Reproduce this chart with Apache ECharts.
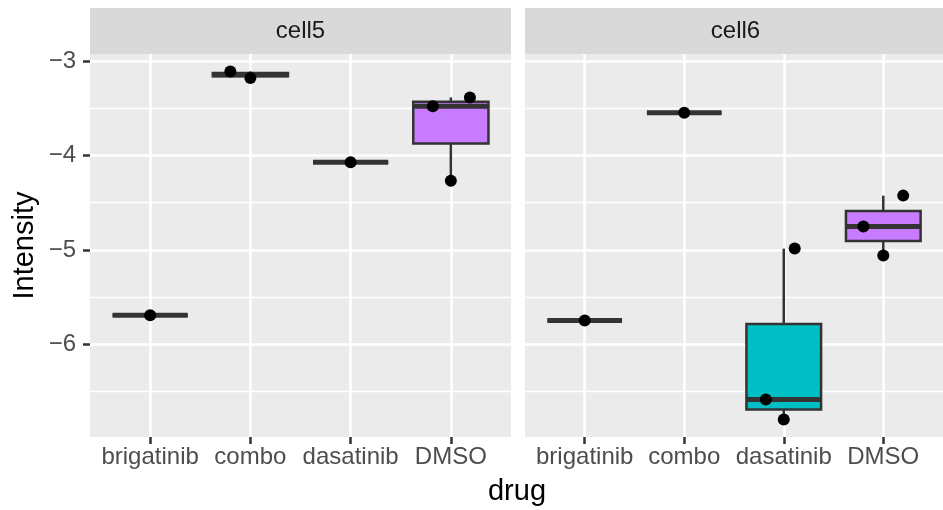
<!DOCTYPE html>
<html><head><meta charset="utf-8">
<script src="https://cdn.jsdelivr.net/npm/echarts@6/dist/echarts.min.js"></script>
<style>html,body{margin:0;padding:0;background:#fff}#c{width:943px;height:510px}</style>
</head><body><div id="c"></div>
<script>
// ---------------- data ----------------
const drugs = ['brigatinib', 'combo', 'dasatinib', 'DMSO'];
const panels = ['cell5', 'cell6'];
const yTicks = [-3, -4, -5, -6];
const yMinorTicks = [-3.5, -4.5, -5.5, -6.5];
const fillColors = ['#F8766D', '#7CAE00', '#00BFC4', '#C77CFF'];

// observed Intensity values per panel / drug
const cell5_brigatinib = [-5.692];
const cell5_combo = [-3.110, -3.180];
const cell5_dasatinib = [-4.072];
const cell5_DMSO = [-3.480, -3.385, -4.267];
const cell6_brigatinib = [-5.748];
const cell6_combo = [-3.547];
const cell6_dasatinib = [-4.986, -6.584, -6.796];
const cell6_DMSO = [-4.425, -4.753, -5.060];

// horizontal jitter of each point (category units)
const cell5_brigatinib_jit = [0];
const cell5_combo_jit = [-0.20, 0.00];
const cell5_dasatinib_jit = [0];
const cell5_DMSO_jit = [-0.18, 0.19, 0.00];
const cell6_brigatinib_jit = [0];
const cell6_combo_jit = [0];
const cell6_dasatinib_jit = [0.11, -0.18, 0.00];
const cell6_DMSO_jit = [0.20, -0.20, 0.00];

const groups = [
  [cell5_brigatinib, cell5_combo, cell5_dasatinib, cell5_DMSO],
  [cell6_brigatinib, cell6_combo, cell6_dasatinib, cell6_DMSO]
];
const jitters = [
  [cell5_brigatinib_jit, cell5_combo_jit, cell5_dasatinib_jit, cell5_DMSO_jit],
  [cell6_brigatinib_jit, cell6_combo_jit, cell6_dasatinib_jit, cell6_DMSO_jit]
];

// ---------------- stats ----------------
function quant(s, p) {
  const h = (s.length - 1) * p, lo = Math.floor(h);
  const hi = Math.min(lo + 1, s.length - 1);
  return s[lo] + (h - lo) * (s[hi] - s[lo]);
}
function boxStats(vals) {
  const s = vals.slice().sort((a, b) => a - b);
  const q1 = quant(s, 0.25), med = quant(s, 0.5), q3 = quant(s, 0.75);
  const iqr = q3 - q1;
  const inside = s.filter(v => v >= q1 - 1.5 * iqr && v <= q3 + 1.5 * iqr);
  return [Math.min(...inside), q1, med, q3, Math.max(...inside)];
}
const allVals = groups.flat(2);
const dmin = Math.min(...allVals), dmax = Math.max(...allVals);
const pad = (dmax - dmin) * 0.05;
const yMin = dmin - pad, yMax = dmax + pad;

// ---------------- layout ----------------
const FONT = "'Liberation Sans', Arial, sans-serif";
const gridTop = 54, gridH = 383;
const gridLefts = [90, 525], gridW = 421;
const stripH = 46;
const fmt = v => (v < 0 ? '\u2212' + Math.abs(v) : String(v));

const grids = [], xAxes = [], yAxes = [], series = [], graphics = [];
panels.forEach((p, pi) => {
  grids.push({left: gridLefts[pi], top: gridTop, width: gridW, height: gridH,
    show: true, backgroundColor: '#EBEBEB', borderWidth: 0});
  xAxes.push({
    type: 'value', gridIndex: pi, min: 0.4, max: 4.6, position: 'bottom',
    axisLine: {show: false},
    axisTick: {show: true, length: 7, customValues: [1, 2, 3, 4],
      lineStyle: {color: '#333333', width: 2.5}},
    axisLabel: {show: true, customValues: [1, 2, 3, 4], formatter: v => drugs[Math.round(v) - 1],
      color: '#4D4D4D', fontSize: 24, fontFamily: FONT, margin: 8},
    splitLine: {show: true, lineStyle: {color: '#FFFFFF', width: 2.5}}
  });
  // minor y gridlines
  yAxes.push({
    type: 'value', gridIndex: pi, min: yMin, max: yMax, position: 'left',
    axisLine: {show: false},
    axisTick: {show: false, customValues: yMinorTicks},
    axisLabel: {show: false, customValues: yMinorTicks},
    splitLine: {show: true, lineStyle: {color: '#FFFFFF', width: 1.3}}
  });
  // major y axis
  yAxes.push({
    type: 'value', gridIndex: pi, min: yMin, max: yMax, position: 'left',
    axisLine: {show: false},
    axisTick: {show: pi === 0, length: 7, customValues: yTicks,
      lineStyle: {color: '#333333', width: 2.5}},
    axisLabel: {show: pi === 0, customValues: yTicks, formatter: fmt,
      color: '#4D4D4D', fontSize: 24, fontFamily: FONT, margin: 14},
    splitLine: {show: true, lineStyle: {color: '#FFFFFF', width: 2.5}}
  });

  const boxData = drugs.map((d, di) => [di + 1, ...boxStats(groups[pi][di]), di]);
  series.push({
    type: 'custom', xAxisIndex: pi, yAxisIndex: pi * 2 + 1, z: 3,
    data: boxData,
    renderItem: function (params, api) {
      const x = api.value(0);
      const lo = api.coord([x, api.value(1)]), q1 = api.coord([x, api.value(2)]);
      const md = api.coord([x, api.value(3)]), q3 = api.coord([x, api.value(4)]);
      const hi = api.coord([x, api.value(5)]);
      const w = api.size([0.75, 0])[0];
      const col = fillColors[api.value(6)];
      const st = {stroke: '#333333', lineWidth: 2.5, fill: null};
      return {type: 'group', children: [
        {type: 'line', shape: {x1: hi[0], y1: hi[1], x2: q3[0], y2: q3[1]}, style: st},
        {type: 'line', shape: {x1: lo[0], y1: lo[1], x2: q1[0], y2: q1[1]}, style: st},
        {type: 'rect', shape: {x: q3[0] - w / 2, y: q3[1], width: w, height: q1[1] - q3[1]},
          style: {fill: col, stroke: '#333333', lineWidth: 2.5}},
        {type: 'line', shape: {x1: md[0] - w / 2, y1: md[1], x2: md[0] + w / 2, y2: md[1]},
          style: {stroke: '#333333', lineWidth: 5, lineCap: 'butt'}}
      ]};
    }
  });
  const pts = [];
  drugs.forEach((d, di) => groups[pi][di].forEach((v, k) => pts.push([di + 1 + jitters[pi][di][k], v])));
  series.push({
    type: 'scatter', xAxisIndex: pi, yAxisIndex: pi * 2 + 1, z: 5,
    symbol: 'circle', symbolSize: 12, itemStyle: {color: '#000000', opacity: 1},
    data: pts, silent: true
  });

  graphics.push({type: 'rect', shape: {x: gridLefts[pi], y: gridTop - stripH, width: gridW, height: stripH},
    style: {fill: '#D9D9D9'}, z: -1});
  graphics.push({type: 'text', x: gridLefts[pi] + gridW / 2, y: gridTop - stripH / 2,
    style: {text: p, fill: '#1A1A1A', font: '24px ' + FONT, textAlign: 'center', textVerticalAlign: 'middle'}});
});
graphics.push({type: 'text', x: 517, y: 492,
  style: {text: 'drug', fill: '#000000', font: '29px ' + FONT, textAlign: 'center', textVerticalAlign: 'middle'}});
graphics.push({type: 'text', x: 25, y: gridTop + gridH / 2, rotation: Math.PI / 2,
  style: {text: 'Intensity', fill: '#000000', font: '29px ' + FONT, textAlign: 'center', textVerticalAlign: 'middle'}});

const chart = echarts.init(document.getElementById('c'), null, {renderer: 'canvas'});
chart.setOption({
  animation: false,
  grid: grids, xAxis: xAxes, yAxis: yAxes, series: series, graphic: graphics
});
</script></body></html>
